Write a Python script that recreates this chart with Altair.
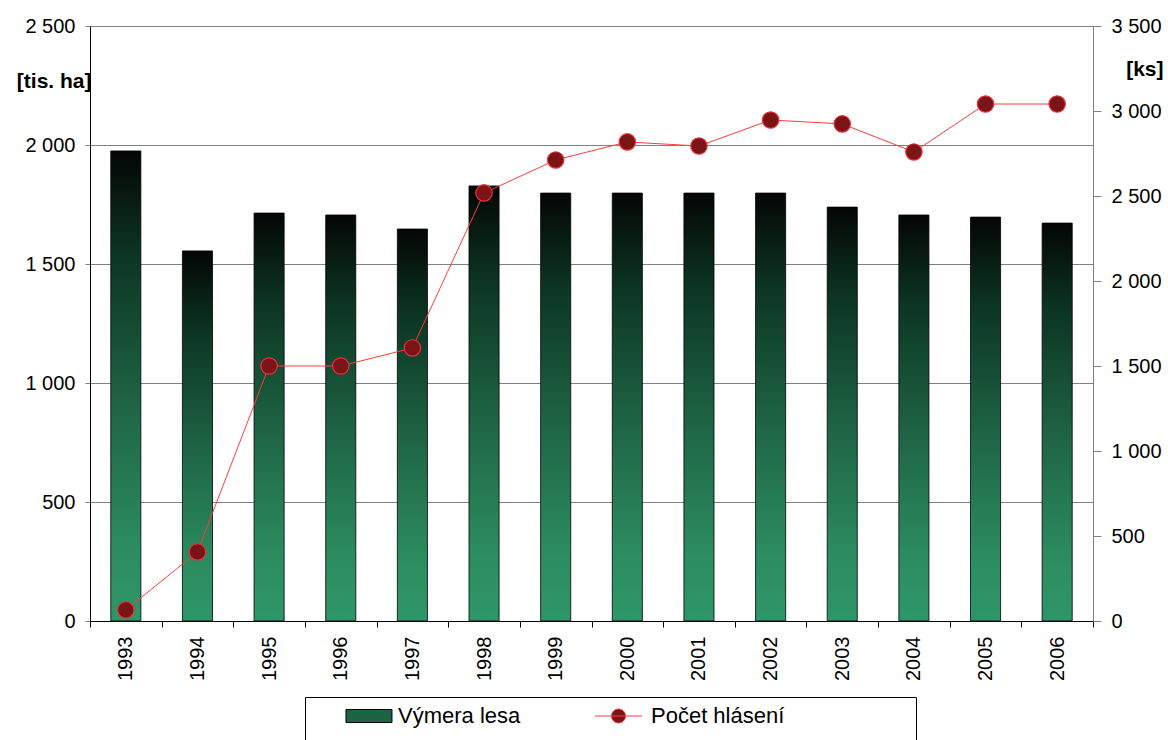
import altair as alt
import pandas as pd

years = [str(y) for y in range(1993, 2007)]
area = [1975, 1555, 1714, 1706, 1647, 1828, 1798, 1798, 1798, 1798, 1739, 1706, 1697, 1672]
reports = [65, 406, 1500, 1500, 1606, 2518, 2712, 2818, 2794, 2947, 2924, 2759, 3041, 3041]
series = ["Výmera lesa", "Počet hlásení"]
left_ticks = [0, 500, 1000, 1500, 2000, 2500]
right_ticks = [0, 500, 1000, 1500, 2000, 2500, 3000, 3500]

df = pd.DataFrame({"year": years, "area": area, "reports": reports})
legend_df = pd.DataFrame({"s": series})

FONT = "Liberation Sans"
label_expr = "replace(format(datum.value, ','), ',', ' ')"

bar_grad = alt.LinearGradient(
    gradient="linear", x1=0, y1=0, x2=0, y2=1,
    stops=[
        alt.GradientStop(offset=0.0, color="#040605"),
        alt.GradientStop(offset=0.22, color="#0c3523"),
        alt.GradientStop(offset=0.55, color="#1f6646"),
        alt.GradientStop(offset=0.85, color="#2c8d60"),
        alt.GradientStop(offset=1.0, color="#2e9668"),
    ],
)

# legend symbol shapes (unit = 7 px); trailing move-to points only widen the legend box
bar_path = "M3.14,-0.93H9.71V0.93H3.14ZM3.14,-1.2M3.14,5"
line_path = "M2.57,0H9.29M6.93,0A1,1,0,1,1,4.93,0A1,1,0,1,1,6.93,0ZM6.93,-1.2M47,5"

x_enc = alt.X(
    "year:N",
    scale=alt.Scale(paddingInner=0, paddingOuter=0),
    axis=alt.Axis(
        title=None, labelAngle=-90, labelFontSize=20, labelFont=FONT, labelColor="black",
        tickBand="extent", tickSize=6, labelPadding=9, domainColor="black", tickColor="black",
    ),
)

bars = alt.Chart(df).mark_bar(
    fill=bar_grad, stroke="black", strokeWidth=0.8, width=alt.RelativeBandSize(0.42)
).encode(
    x=x_enc,
    y=alt.Y(
        "area:Q",
        scale=alt.Scale(domain=[0, 2500], nice=False),
        axis=alt.Axis(
            values=left_ticks, labelExpr=label_expr, grid=True, gridColor="#808080",
            gridWidth=1, tickSize=5, tickColor="#808080", domainColor="black",
            labelFontSize=20, labelFont=FONT, labelColor="black", labelPadding=10,
            title="[tis. ha]", titleAngle=0, titleFontWeight="bold", titleFontSize=21,
            titleFont=FONT, titleColor="black", titleAlign="right", titleBaseline="middle",
            titleX=1, titleY=55,
        ),
    ),
)

y_right = alt.Y(
    "reports:Q",
    scale=alt.Scale(domain=[0, 3500], nice=False),
    axis=alt.Axis(
        orient="right", values=right_ticks, labelExpr=label_expr, grid=False,
        tickSize=8, tickColor="#808080", domainColor="#808080",
        labelFontSize=20, labelFont=FONT, labelColor="black", labelPadding=10,
        title="[ks]", titleAngle=0, titleFontWeight="bold", titleFontSize=21,
        titleFont=FONT, titleColor="black", titleAlign="right", titleBaseline="middle",
        titleX=70, titleY=43,
    ),
)

line = alt.Chart(df).mark_line(strokeWidth=1, color="#ff3b3b").encode(x=x_enc, y=y_right)

points = alt.Chart(df).mark_circle(
    size=270, fill="#7b1416", stroke="#e8323a", strokeWidth=1.2, opacity=1
).encode(x=x_enc, y=y_right)

right = alt.layer(line, points)

legend_def = alt.Legend(
    title=None, orient="none", legendX=215, legendY=671, direction="horizontal",
    columns=2, symbolSize=196, labelOffset=63, columnPadding=45, padding=8,
    strokeColor="black", labelFontSize=22, labelFont=FONT, labelColor="black",
    symbolStrokeWidth=1, symbolOpacity=1, labelLimit=300,
)

legend_layer = alt.Chart(legend_df).transform_filter("false").mark_point(filled=True).encode(
    shape=alt.Shape("s:N", scale=alt.Scale(domain=series, range=[bar_path, line_path]), legend=legend_def),
    fill=alt.Fill("s:N", scale=alt.Scale(domain=series, range=["#1d6444", "#7b1416"]), legend=legend_def),
    stroke=alt.Stroke("s:N", scale=alt.Scale(domain=series, range=["#000000", "#ff3b3b"]), legend=legend_def),
)

chart = alt.layer(bars, right, legend_layer).resolve_scale(y="independent").properties(
    width=1003,
    height=595,
    autosize=alt.AutoSizeParams(type="none"),
    padding={"left": 90, "top": 26, "right": 75, "bottom": 119},
).configure_view(stroke="#808080", strokeWidth=1).configure(font=FONT)

chart.save("out.html", embed_options={"renderer": "svg", "actions": False})
